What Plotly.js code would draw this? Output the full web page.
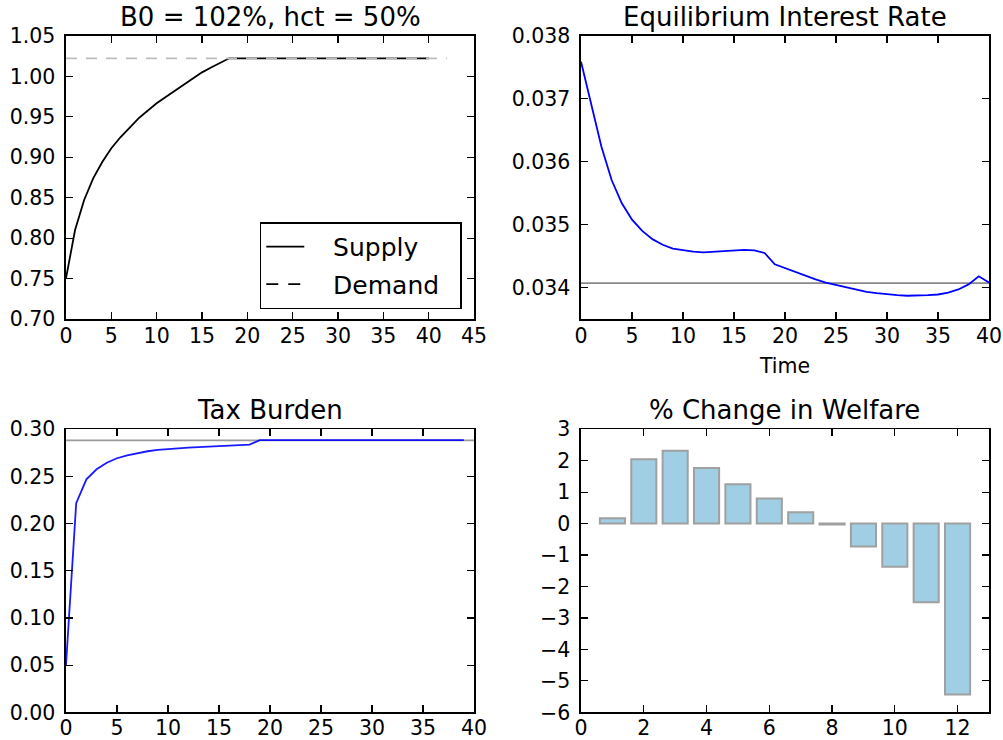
<!DOCTYPE html>
<html>
<head>
<meta charset="utf-8">
<script src="https://cdn.plot.ly/plotly-3.0.1.min.js"></script>
<style>
html,body{margin:0;padding:0;background:#fff;}
#chart{width:1003px;height:740px;}
</style>
</head>
<body>
<div id="chart"></div>
<script>
// ---- Data ----
const time = [0,1,2,3,4,5,6,7,8,9,10,11,12,13,14,15,16,17,18,19,20,21,22,23,24,25,26,27,28,29,30,31,32,33,34,35,36,37,38,39,40];

const supply = [0.7503,0.8101,0.8472,0.8740,0.8942,0.9111,0.9247,0.9371,0.9482,0.9576,0.9667,0.9745,0.9823,0.9897,0.9975,1.0050,1.0110,1.0168,1.0224,
  1.0224,1.0224,1.0224,1.0224,1.0224,1.0224,1.0224,1.0224,1.0224,1.0224,1.0224,1.0224,1.0224,1.0224,1.0224,1.0224,1.0224,1.0224,1.0224,1.0224,1.0224,1.0224];
const demandTime = [0, 42];
const demand = [1.0224, 1.0224];

const interestRate = [0.03759,0.03690,0.03624,0.03571,0.03534,0.03508,0.03490,0.03477,0.03468,0.03462,0.03459,0.03457,0.03456,0.03457,0.03458,0.03459,0.03460,0.03459,0.03455,
  0.03437,0.03431,0.03424,0.03418,0.03413,0.03408,0.03404,0.03400,0.03397,0.03393,0.03391,0.03389,0.03388,0.03387,0.03387,0.03388,0.03389,0.03392,0.03397,0.03405,0.03418,0.03408];
const steadyRateTime = [0, 40];
const steadyRate = [0.03407, 0.03407];

const taxTime = [0,1,2,3,4,5,6,7,8,9,10,11,12,13,14,15,16,17,18,19,20,21,22,23,24,25,26,27,28,29,30,31,32,33,34,35,36,37,38,39];
const taxBurden = [0.0501,0.2216,0.2470,0.2576,0.2646,0.2693,0.2724,0.2749,0.2767,0.2781,0.2791,0.2798,0.2805,0.2811,0.2816,0.2821,0.2825,0.2829,0.2837,
  0.2885,0.2885,0.2885,0.2885,0.2885,0.2885,0.2885,0.2885,0.2885,0.2885,0.2885,0.2885,0.2885,0.2885,0.2885,0.2885,0.2885,0.2885,0.2885,0.2885,0.2885];
const steadyTaxTime = [0, 40];
const steadyTax = [0.2883, 0.2883];

const cohorts = [1,2,3,4,5,6,7,8,9,10,11,12];
const welfareChange = [0.17,2.05,2.32,1.77,1.25,0.80,0.36,-0.03,-0.73,-1.37,-2.50,-5.43];

const titles = ["B0 = 102%, hct = 50%", "Equilibrium Interest Rate", "Tax Burden", "% Change in Welfare"];
const legendNames = ["Supply", "Demand"];

// ---- Traces ----
const FONT = "DejaVu Sans, Liberation Sans, sans-serif";
const pad = s => "\u00a0\u00a0\u00a0" + s + "\u00a0\u00a0";
const traces = [
  {x: time, y: supply, xaxis:'x', yaxis:'y', type:'scatter', mode:'lines', name:pad(legendNames[0]),
   line:{color:'#000000', width:1.8}, legendgroup:'a', hoverinfo:'skip'},
  {x: demandTime, y: demand, xaxis:'x', yaxis:'y', type:'scatter', mode:'lines', name:legendNames[1],
   line:{color:'#bdbdbd', width:1.8, dash:'11px,9px'}, legendgroup:'b', showlegend:false, hoverinfo:'skip'},
  {x: [null], y: [null], xaxis:'x', yaxis:'y', type:'scatter', mode:'lines', name:pad(legendNames[1]),
   line:{color:'#000000', width:1.8, dash:'12px,10px'}, legendgroup:'b', hoverinfo:'skip'},
  {x: steadyRateTime, y: steadyRate, xaxis:'x2', yaxis:'y2', type:'scatter', mode:'lines',
   line:{color:'#8a8a8a', width:1.8}, showlegend:false, hoverinfo:'skip'},
  {x: time, y: interestRate, xaxis:'x2', yaxis:'y2', type:'scatter', mode:'lines',
   line:{color:'#0000ff', width:1.8}, showlegend:false, hoverinfo:'skip'},
  {x: steadyTaxTime, y: steadyTax, xaxis:'x3', yaxis:'y3', type:'scatter', mode:'lines',
   line:{color:'#9a9a9a', width:1.8}, showlegend:false, hoverinfo:'skip'},
  {x: taxTime, y: taxBurden, xaxis:'x3', yaxis:'y3', type:'scatter', mode:'lines',
   line:{color:'#0000ff', width:1.8}, opacity:0.9, showlegend:false, hoverinfo:'skip'},
  {x: cohorts, y: welfareChange, xaxis:'x4', yaxis:'y4', type:'bar', width:0.8,
   marker:{color:'#a0cfe5', line:{color:'#a0a0a0', width:2}}, showlegend:false, hoverinfo:'skip'}
];

function ax(extra){
  return Object.assign({
    showline:true, linecolor:'#000', linewidth:1.6, mirror:'allticks',
    ticks:'inside', ticklen:7, tickwidth:1.2, tickcolor:'#000',
    showgrid:false, zeroline:false, automargin:false,
    tickfont:{family:FONT, size:20.5, color:'#000'}, ticklabelstandoff:5
  }, extra);
}
function xax(extra){ return ax(Object.assign({ticklabelstandoff:-2}, extra)); }

const colL = [0.0658, 0.4726], colR = [0.5793, 0.9860];
const rowT = [0.5689, 0.9514], rowB = [0.0374, 0.4199];

const titleFont = {family:FONT, size:26, color:'#000'};
function title(i, col, row){
  return {text:titles[i], xref:'paper', yref:'paper', x:(col[0]+col[1])/2, y:row[1],
    xanchor:'center', yanchor:'bottom', yshift:2, showarrow:false, font:titleFont};
}

const layout = {
  width:1003, height:740,
  margin:{l:0, r:0, t:0, b:0},
  paper_bgcolor:'#ffffff', plot_bgcolor:'#ffffff',
  font:{family:FONT, color:'#000'},
  showlegend:true,
  xaxis: xax({domain:colL, anchor:'y', range:[0,45], dtick:5, tick0:0}),
  yaxis: ax({domain:rowT, anchor:'x', range:[0.70,1.05], dtick:0.05, tick0:0.70, tickformat:'.2f'}),
  xaxis2: xax({domain:colR, anchor:'y2', range:[0,40], dtick:5, tick0:0,
    title:{text:'Time', font:{family:FONT, size:20.5, color:'#000'}, standoff:11}}),
  yaxis2: ax({domain:rowT, anchor:'x2', range:[0.0335,0.038], dtick:0.001, tick0:0.034, tickformat:'.3f'}),
  xaxis3: xax({domain:colL, anchor:'y3', range:[0,40], dtick:5, tick0:0, ticklabelstandoff:-4}),
  yaxis3: ax({domain:rowB, anchor:'x3', range:[0,0.30], dtick:0.05, tick0:0, tickformat:'.2f'}),
  xaxis4: xax({domain:colR, anchor:'y4', range:[0,13], dtick:2, tick0:0, ticklabelstandoff:-4}),
  yaxis4: ax({domain:rowB, anchor:'x4', range:[-6,3], dtick:1, tick0:-6}),
  legend:{
    x:0.4603, xanchor:'right', y:0.582, yanchor:'bottom',
    bgcolor:'#ffffff', bordercolor:'#000', borderwidth:1.6,
    font:{family:FONT, size:25, color:'#000'},
    traceorder:'grouped', tracegroupgap:2, itemwidth:38
  },
  annotations: [ title(0, colL, rowT), title(1, colR, rowT), title(2, colL, rowB), title(3, colR, rowB) ]
};

Plotly.newPlot('chart', traces, layout, {staticPlot:true, displayModeBar:false});
</script>
</body>
</html>
